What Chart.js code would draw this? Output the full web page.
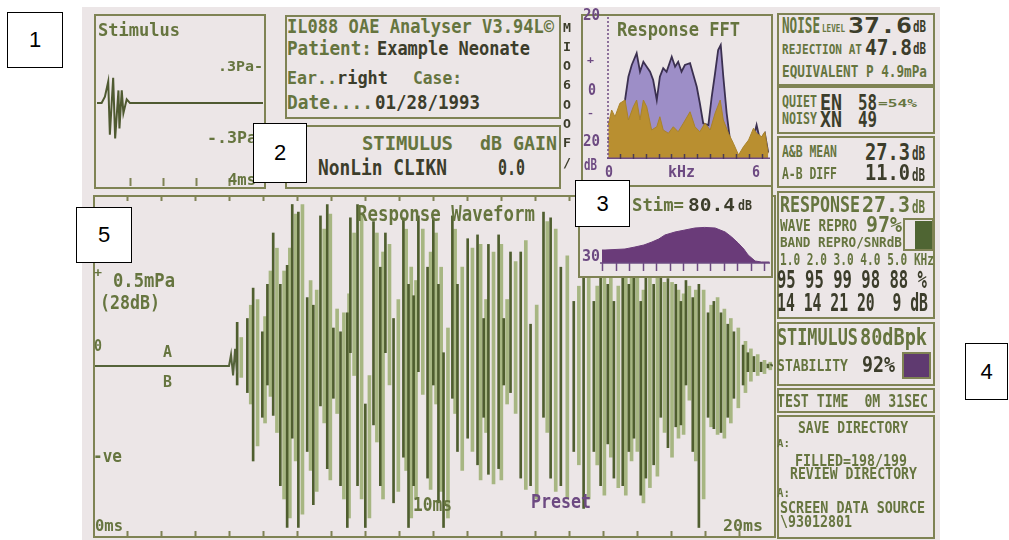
<!DOCTYPE html>
<html><head><meta charset="utf-8">
<script src="https://cdn.jsdelivr.net/npm/chart.js@4.4.1/dist/chart.umd.min.js"></script>
<style>
html,body{margin:0;padding:0;background:#fff;width:1009px;height:540px;overflow:hidden;position:relative;font-family:"DejaVu Sans Mono",monospace;}
#screen{position:absolute;left:82px;top:7px;width:858px;height:533px;background:#ece6e7;}
.frame{position:absolute;border:2px solid #7f8354;box-sizing:border-box;}
.panel{position:absolute;background:#ece6e7;}
.t{position:absolute;white-space:pre;line-height:1;transform-origin:0 0;}
canvas{position:absolute;}
.num{position:absolute;background:#fff;border:1.5px solid #000;box-sizing:border-box;font-family:"Liberation Sans",Arial,sans-serif;font-size:22px;display:flex;align-items:center;justify-content:center;color:#000;}
</style></head><body>
<div id="screen"></div>
<script>
// ---------------- DATA ----------------
// Response waveform (mPa vs ms): flat start/end trace
const waveLineTime = [0,4.00,4.06,4.12,4.18,4.24,19.85,19.92,20.0];
const waveLineVal  = [0,0,0.06,-0.05,0.09,-0.04,null,0.01,0];
// Response waveform strokes, trace A (time, low, high)
const strokeTimeA = [4.24,4.54,4.71,4.98,5.13,5.30,5.51,5.71,5.86,6.04,6.30,6.48,6.69,6.89,7.07,7.28,7.48,7.57,7.78,8.01,8.25,8.45,8.60,8.84,9.13,9.28,9.43,9.57,9.84,10.01,10.16,10.31,10.57,10.72,11.02,11.31,11.49,11.63,11.93,12.08,12.28,12.58,12.87,13.25,13.46,13.76,14.14,14.43,14.73,14.93,15.14,15.32,15.58,15.76,15.91,16.11,16.26,16.49,16.70,16.91,17.14,17.29,17.44,17.64,17.82,18.09,18.26,18.47,18.67,18.85,19.12,19.26,19.44,19.65,19.85];
const strokeLowA = [-0.10,-0.14,-0.50,-0.27,-0.10,-0.26,-0.63,-0.85,-0.38,-0.85,
 -0.45,-0.73,-0.21,-0.54,-0.17,-0.63,-0.85,0.07,-0.63,-0.85,
 -0.31,-0.63,0.07,-0.72,-0.48,-0.85,-0.63,-0.03,-0.59,-0.10,
 -0.72,-0.85,-0.17,-0.45,-0.38,-0.52,-0.27,-0.57,-0.54,-0.10,
 -0.14,-0.59,-0.63,-0.27,-0.59,-0.63,-0.45,-0.75,-0.45,-0.63,
 -0.41,-0.59,-0.63,-0.45,-0.38,-0.68,-0.59,-0.52,-0.27,-0.43,
 -0.32,-0.31,-0.10,-0.45,-0.85,-0.27,-0.33,-0.35,-0.27,-0.17,
 -0.10,-0.03,-0.03,-0.03,-0.01];
const strokeHighA = [0.23,0.25,0.41,0.18,0.43,0.70,0.43,0.53,0.85,0.81,
 0.36,0.32,0.79,0.85,0.20,0.18,0.28,0.78,0.85,-0.20,
 0.76,0.52,0.70,0.25,0.78,0.43,0.37,0.79,0.52,0.78,
 0.43,0.07,0.79,0.43,0.67,0.69,0.25,0.64,0.69,0.25,
 0.60,0.60,0.22,0.81,0.78,0.52,0.34,0.75,0.34,0.60,
 0.43,0.34,0.55,0.43,0.50,0.34,0.50,0.43,0.48,0.46,
 0.43,0.34,0.45,0.36,0.43,0.28,0.34,0.28,0.22,0.18,
 0.11,0.07,0.05,0.02,0.01];
// trace B
const strokeTimeB = [4.36,4.64,4.84,5.06,5.22,5.41,5.62,5.79,5.96,6.16,6.40,6.58,6.80,6.98,7.18,7.38,7.53,7.68,7.90,8.13,8.35,8.53,8.72,8.98,9.21,9.36,9.50,9.70,9.93,10.09,10.24,10.44,10.65,10.86,11.16,11.40,11.56,11.78,12.01,12.18,12.43,12.73,13.05,13.36,13.61,13.95,14.29,14.58,14.83,15.04,15.23,15.45,15.67,15.84,16.01,16.19,16.38,16.60,16.81,17.03,17.22,17.37,17.54,17.73,17.96,18.18,18.37,18.57,18.76,18.98,19.19,19.35,19.55,19.75,19.92];
const strokeLowB = [-0.06,-0.20,-0.42,-0.30,-0.16,-0.35,-0.70,-0.80,-0.50,-0.78,
 -0.55,-0.66,-0.30,-0.60,-0.25,-0.70,-0.80,-0.05,-0.70,-0.80,
 -0.40,-0.70,-0.10,-0.66,-0.55,-0.80,-0.70,-0.15,-0.65,-0.20,
 -0.66,-0.80,-0.25,-0.55,-0.45,-0.60,-0.35,-0.62,-0.60,-0.20,
 -0.25,-0.65,-0.70,-0.35,-0.66,-0.70,-0.52,-0.70,-0.52,-0.68,
 -0.48,-0.64,-0.68,-0.50,-0.45,-0.72,-0.64,-0.58,-0.35,-0.48,
 -0.38,-0.36,-0.18,-0.50,-0.70,-0.32,-0.36,-0.38,-0.30,-0.22,
 -0.14,-0.08,-0.05,-0.04,-0.02];
const strokeHighB = [0.15,0.32,0.35,0.26,0.50,0.62,0.50,0.62,0.80,0.85,
 0.45,0.40,0.72,0.80,0.30,0.28,0.38,0.70,0.80,-0.05,
 0.70,0.60,0.64,0.35,0.72,0.52,0.45,0.72,0.60,0.70,
 0.52,0.20,0.72,0.52,0.62,0.64,0.35,0.60,0.64,0.35,
 0.55,0.66,0.32,0.76,0.72,0.58,0.42,0.70,0.42,0.55,
 0.50,0.42,0.52,0.48,0.52,0.40,0.52,0.48,0.44,0.44,
 0.40,0.38,0.42,0.40,0.40,0.32,0.36,0.30,0.25,0.20,
 0.13,0.09,0.06,0.03,0.02];
const waveTickMs = [1,2,3,4,5,6,7,8,9,10,11,12,13,14,15,16,17,18,19];

// Stimulus click (Pa vs ms)
const stimTime = [0,0.14,0.24,0.34,0.39,0.49,0.55,0.65,0.68,0.75,0.80,0.90,1.0,5.03];
const stimPa   = [0,0,0.05,0.17,-0.25,0.20,-0.28,0.10,-0.20,0.10,-0.08,0.03,0,0];
const stimTickMs = [1,2,3,4];

// Response FFT (dB vs kHz)
const fftRespKHz = [0.05,0.44,0.70,0.83,0.96,1.15,1.28,1.41,1.54,1.67,1.79,1.93,2.05,2.18,2.31,2.51,2.64,2.76,2.89,3.02,3.22,3.35,3.48,3.60,3.73,3.93,4.06,4.19,4.31,4.41,4.51,4.64,4.77,4.90,5.22,5.61,5.80,5.93,6.12,6.25];
const fftRespDb  = [-20,-10,-4,5.3,10,14.7,7.3,11.3,9.3,7.3,4,-4,5.3,8.7,7.3,13.3,9.3,11.3,7.3,10,10.7,6,1.3,-5.3,-13.3,-14,-2.7,6.7,16,18,5.3,-9.3,-20,-26.8,-27,-22,-14,-20,-17.3,-25];
const fftNoiseKHz = [0.05,0.18,0.31,0.50,0.70,0.83,1.02,1.15,1.28,1.41,1.54,1.73,1.93,2.05,2.18,2.38,2.57,2.76,2.96,3.22,3.41,3.60,3.80,4.00,4.19,4.39,4.51,4.71,4.90,5.10,5.29,5.49,5.68,5.80,6.00,6.12,6.25];
const fftNoiseDb  = [-14,-8,-10.7,-5.3,-4,-12,-6.7,-4,-12,-4,-6.7,-16,-14.7,-10.7,-16,-17.3,-14.7,-16.7,-13.3,-8.7,-14.7,-16.7,-13.3,-16,-9.3,-4,-12,-17.3,-21.3,-26,-22.7,-20,-15.3,-17.3,-18.7,-16.7,-25.3];
const fftTickKHz = [0.5,1,1.5,2,2.5,3,3.5,4,4.5,5,5.5,6];

// Stimulus spectrum (dB vs kHz)
const stimSpecKHz = [0,0.11,0.85,1.22,1.55,1.85,2.10,2.33,2.70,3.07,3.44,3.80,4.19,4.56,4.80,5.04,5.25,5.41,5.67,5.90,6.20];
const stimSpecDb  = [36.5,36.5,37,38,39,40.5,42,44,45.5,46.5,47.5,47.8,47.5,45.5,43,40,37,34,31,30.5,30.5];
const stimSpecTickKHz = [0,0.5,1,1.5,2,2.5,3,3.5,4,4.5,5,5.5,6];

// ---------------- COLOURS / LAYOUT ----------------
const C = {g:'#66753f', d:'#3c3d2b', p:'#6d4a82', frame:'#7f8354'};
const body = document.body;

function addFrame(l,t,r,b){
  const d=document.createElement('div'); d.className='frame';
  Object.assign(d.style,{left:l+'px',top:t+'px',width:(r-l)+'px',height:(b-t)+'px'});
  body.appendChild(d); return d;
}
function addCanvas(id,l,t,w,h){
  const c=document.createElement('canvas'); c.id=id; c.width=w; c.height=h;
  Object.assign(c.style,{left:l+'px',top:t+'px',width:w+'px',height:h+'px'});
  body.appendChild(c); return c;
}
function addText(str,x,capTop,base,w,col,bold){
  const fs=(base-capTop)/0.729;
  const s=document.createElement('div'); s.className='t'; s.textContent=str;
  Object.assign(s.style,{left:x+'px',top:(capTop-0.117*fs)+'px',fontSize:fs+'px',color:C[col],fontWeight:'bold'});
  body.appendChild(s);
  const mw=s.getBoundingClientRect().width;
  if(mw>0) s.style.transform='scaleX('+(w/mw)+')';
}
function addBox(l,t,r,b,color){
  const d=document.createElement('div');
  Object.assign(d.style,{position:'absolute',left:l+'px',top:t+'px',width:(r-l)+'px',height:(b-t)+'px',background:color});
  body.appendChild(d);
}

// tick plugin using the chart scales
const tickSets = {};
Chart.register({
  id:'edgeTicks',
  afterDatasetsDraw(chart){
    const sets = tickSets[chart.canvas.id]; if(!sets) return;
    const ctx=chart.ctx, xs=chart.scales.x, ys=chart.scales.y, ca=chart.chartArea;
    ctx.save();
    sets.forEach(s=>{
      ctx.strokeStyle=s.color; ctx.lineWidth=s.width||1.5; ctx.setLineDash(s.dash||[]);
      if(s.kind==='xticks'){
        const y0 = s.at==='top'?ca.top:(s.at==='bottom'?ca.bottom:ys.getPixelForValue(s.at));
        s.values.forEach(v=>{const px=Math.round(xs.getPixelForValue(v))+0.5;
          ctx.beginPath();ctx.moveTo(px,y0);ctx.lineTo(px,y0+s.dir*s.len);ctx.stroke();});
      } else if(s.kind==='hline'){
        const py=ys.getPixelForValue(s.at);
        ctx.beginPath();ctx.moveTo(ca.left,py);ctx.lineTo(ca.right,py);ctx.stroke();
      } else if(s.kind==='vline'){
        const px=xs.getPixelForValue(s.at)+1;
        ctx.beginPath();ctx.moveTo(px,ca.top);ctx.lineTo(px,ca.bottom);ctx.stroke();
      }
    });
    ctx.restore();
  }
});
Chart.defaults.font.family='DejaVu Sans Mono';
const pts=(xs,ys)=>xs.map((x,i)=>({x:x,y:ys[i]}));
const bars=(xs,lo,hi)=>xs.map((x,i)=>({x:x,y:[lo[i],hi[i]]}));
function baseOpts(xmin,xmax,ymin,ymax){
  return {responsive:false,animation:false,events:[],
    layout:{padding:0},
    plugins:{legend:{display:false},tooltip:{enabled:false}},
    elements:{point:{radius:0},line:{tension:0}},
    scales:{x:{type:'linear',min:xmin,max:xmax,display:false,offset:false},y:{type:'linear',min:ymin,max:ymax,display:false}}};
}

// ---------- Response waveform ----------
const cw = addCanvas('wave',93,195,680,342);
tickSets.wave=[
  {kind:'xticks',values:waveTickMs,at:'top',dir:1,len:6,color:C.frame,width:2},
  {kind:'xticks',values:waveTickMs,at:'bottom',dir:-1,len:6,color:C.frame,width:2}
];
new Chart(cw,{type:'bar',data:{datasets:[
  {type:'line',data:pts(waveLineTime,waveLineVal),borderColor:'#55633a',borderWidth:2,fill:false,spanGaps:false,order:0},
  {type:'bar',data:bars(strokeTimeA,strokeLowA,strokeHighA),backgroundColor:'#4f5e2f',barThickness:2,grouped:false,borderWidth:0,order:1},
  {type:'bar',data:bars(strokeTimeB,strokeLowB,strokeHighB),backgroundColor:'#a7b682',barThickness:3,grouped:false,borderWidth:0,order:2}
]},options:baseOpts(0,20,-0.9,0.9)});
addFrame(93,195,776,538);

// ---------- Stimulus panel ----------
const cs = addCanvas('stim',97,17,166,169);
tickSets.stim=[{kind:'xticks',values:stimTickMs,at:'bottom',dir:-1,len:8,color:C.frame,width:2}];
new Chart(cs,{type:'line',data:{datasets:[
  {data:pts(stimTime,stimPa),borderColor:'#4f5a31',borderWidth:2,fill:false}
]},options:baseOpts(0,5.03,-0.655,0.68)});
addFrame(94,14,266,189);

// ---------- Info panels ----------
addFrame(285,15,561,119);
addFrame(285,125,561,189);

// ---------- FFT panel ----------
const cf = addCanvas('fft',607,17,163,142);
tickSets.fft=[
  {kind:'vline',at:0,color:C.p,width:1.5,dash:[2,2]},
  {kind:'hline',at:-27.6,color:C.p,width:3},
  {kind:'xticks',values:fftTickKHz,at:-27.6,dir:-1,len:5,color:'#4a3a55',width:1.5}
];
new Chart(cf,{type:'line',data:{datasets:[
  {data:pts(fftNoiseKHz,fftNoiseDb),borderColor:'#a9832a',backgroundColor:'#b98f30',borderWidth:1,fill:'start',order:0},
  {data:pts(fftRespKHz,fftRespDb),borderColor:'#3b3050',backgroundColor:'#9d8ec7',borderWidth:1.8,fill:'start',order:1}
]},options:baseOpts(0,6.32,-27.6,29.2)});
addFrame(581,14,773,187);

// ---------- Stimulus spectrum panel ----------
const sp=document.createElement('div'); sp.className='panel';
Object.assign(sp.style,{left:'578px',top:'185px',width:'195px',height:'93px'}); body.appendChild(sp);
const cp = addCanvas('spec',600,200,170,76);
tickSets.spec=[
  {kind:'hline',at:30,color:C.p,width:1.5},
  {kind:'xticks',values:stimSpecTickKHz,at:30,dir:1,len:8,color:C.p,width:1.5}
];
new Chart(cp,{type:'line',data:{datasets:[
  {data:pts(stimSpecKHz,stimSpecDb),borderColor:'#6a3b79',backgroundColor:'#6a3b79',borderWidth:1,fill:{value:30}}
]},options:baseOpts(-0.074,6.22,23.5,61.5)});
addFrame(578,185,773,278);

// ---------- Right column frames ----------
[[777,13,935,86],[777,86,935,134],[777,136,935,188],[777,191,935,319],[777,322,935,386],[777,388,935,413],[777,415,935,539]]
  .forEach(f=>addFrame(f[0],f[1],f[2],f[3]));
addFrame(903,218,934,251); addBox(915,221,932,249,'#4f6533');
addFrame(902,352,931,379); addBox(904,354,929,377,'#5f3a70');

// ---------- Texts ----------
const texts=[
 ["Stimulus",98,23,36,82,'g'],[".3Pa-",218,62,72,45,'g'],["-.3Pa",207,133,144,50,'g'],["4ms",228,174,186,28,'g'],
 ["IL088 OAE Analyser V3.94L©",287,19,33,267,'g'],["Patient:",287,41,55,85,'g'],["Example Neonate",377,41,55,153,'d'],
 ["Ear..",287,71,84,50,'g'],["right",337,71,84,51,'d'],["Case:",413,71,84,49,'g'],
 ["Date....",287,95,109,86,'g'],["01/28/1993",375,95,109,105,'d'],
 ["STIMULUS",362,136,150,91,'g'],["dB GAIN",480,136,150,77,'g'],["NonLin CLIKN",318,160,175,129,'d'],["0.0",498,160,175,27,'d'],
 ["20",583,9,21,17,'p'],["+",587,56,63,7,'p'],["0",588,85,96,8,'p'],["-",587,110,116,7,'p'],["20",583,135,147,17,'p'],["dB",584,159,171,13,'p'],
 ["Response FFT",617,22,36,123,'g'],["0",605,166,178,8,'p'],["kHz",668,166,178,27,'p'],["6",752,166,178,8,'p'],
 ["Stim=",632,198,211,52,'g'],["80.4",688,198,211,47,'d'],["dB",738,201,211,14,'d'],["30",582,250,262,18,'p'],
 ["Response Waveform",357,206,221,178,'g'],["+",94,268,277,8,'g'],["0.5mPa",113,273,287,62,'g'],["(28dB)",100,295,309,60,'g'],
 ["0",94,341,352,8,'g'],["A",163,346,358,9,'g'],["B",163,376,388,9,'g'],["-ve",93,449,462,29,'g'],
 ["10ms",413,497,511,39,'g'],["Preset",531,494,508,60,'p'],["0ms",95,520,532,28,'g'],["20ms",723,520,532,40,'g'],
 ["NOISE",782,18,33,38,'g'],["LEVEL",822,25,33,23,'g'],["37.6",848,18,33,64,'d'],["dB",913,22,33,13,'d'],
 ["REJECTION AT",782,45,55,80,'g'],["47.8",865,40,55,47,'d'],["dB",913,44,55,13,'d'],
 ["EQUIVALENT P 4.9mPa",782,66,78,145,'g'],
 ["QUIET",782,97,108,35,'g'],["EN",820,95,110,22,'d'],["58",858,95,110,19,'d'],["=54%",878,100,108,39,'g'],
 ["NOISY",782,114,125,35,'g'],["XN",820,112,127,22,'d'],["49",858,112,127,19,'d'],
 ["A&B MEAN",782,147,158,55,'g'],["27.3",865,143,160,45,'d'],["dB",912,146,160,13,'d'],
 ["A-B DIFF",782,168,180,55,'g'],["11.0",865,165,181,45,'d'],["dB",912,168,181,13,'d'],
 ["RESPONSE",780,197,213,80,'g'],["27.3",862,197,213,48,'g'],["dB",912,200,213,13,'g'],
 ["WAVE REPRO",780,220,232,77,'g'],["97%",866,217,233,36,'g'],["BAND REPRO/SNRdB",780,238,248,122,'g'],
 ["1.0 2.0 3.0 4.0 5.0 KHz",780,255,266,154,'g'],["95 95 99 98 88 %",777,271,289,150,'d'],["14 14 21 20  9 dB",777,294,312,151,'d'],
 ["STIMULUS",777,328,345,81,'g'],["80dBpk",860,328,345,67,'g'],["STABILITY",777,360,372,71,'g'],["92%",862,357,373,33,'d'],
 ["TEST TIME  0M 31SEC",777,394,407,151,'g'],["SAVE DIRECTORY",798,422,434,110,'g'],["A:",777,440,448,13,'g'],
 ["FILLED=198/199",795,455,467,112,'g'],["REVIEW DIRECTORY",790,468,480,127,'g'],["A:",777,488,497,13,'g'],
 ["SCREEN DATA SOURCE",780,502,514,145,'g'],["\\93012801",780,517,528,72,'g']
];
texts.forEach(a=>addText(a[0],a[1],a[2],a[3],a[4],a[5]));
['M','I','O','6','O','O','F','/'].forEach((ch,i)=>addText(ch,563,23+i*19.3,32+i*19.3,8,'d'));

// ---------- Number boxes ----------
[["1",7,12,63,68],["2",253,123,307,183],["3",575,180,630,227],["4",965,343,1008,400],["5",76,207,132,263]].forEach(b=>{
  const d=document.createElement('div'); d.className='num'; d.textContent=b[0];
  Object.assign(d.style,{left:b[1]+'px',top:b[2]+'px',width:(b[3]-b[1])+'px',height:(b[4]-b[2])+'px'});
  body.appendChild(d);
});
</script>
</body></html>
